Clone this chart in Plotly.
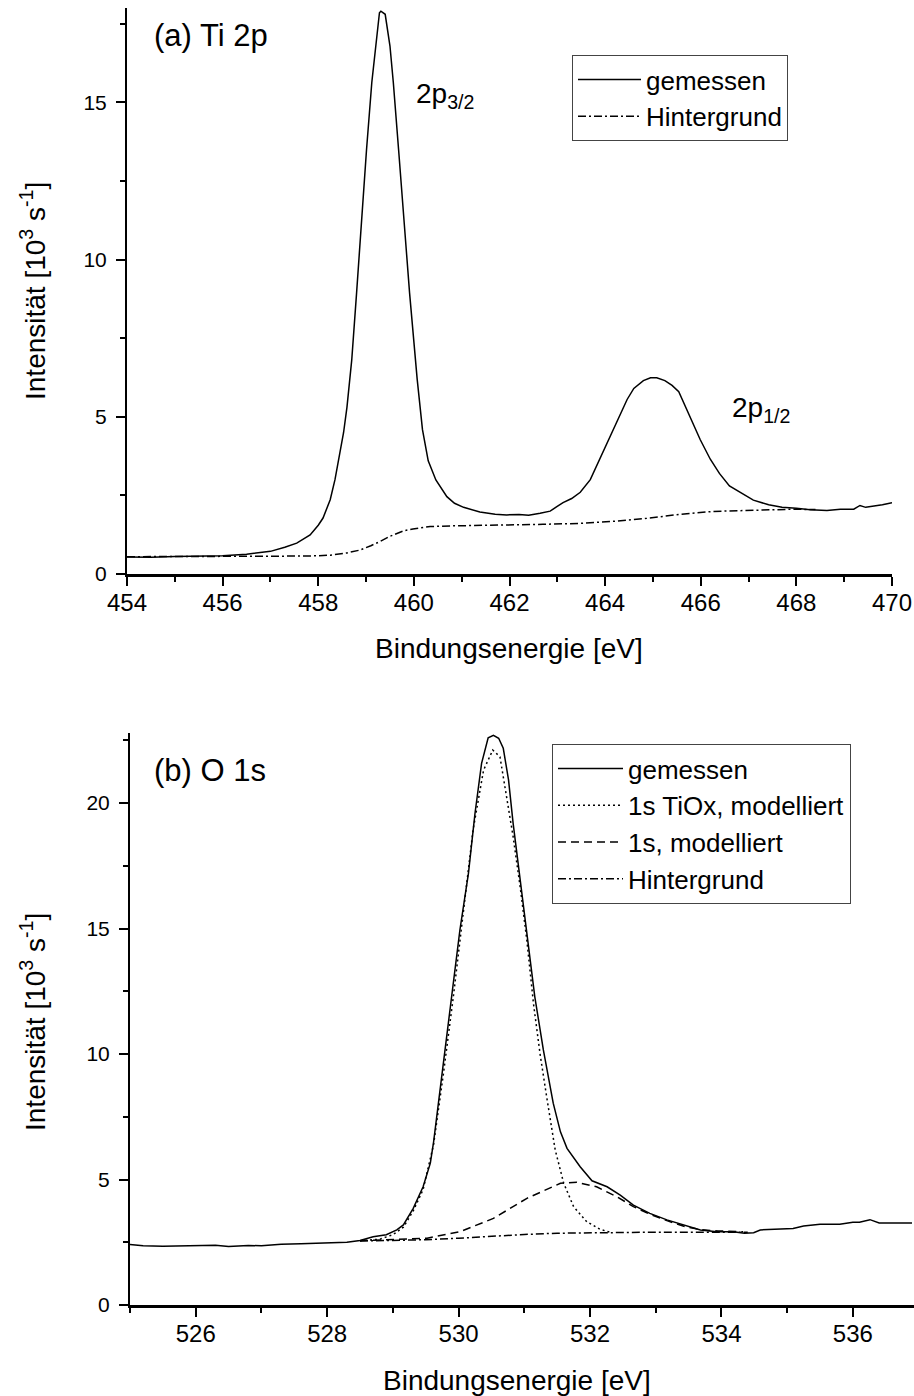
import plotly.graph_objects as go

# ---------------- data: (a) Ti 2p ----------------
ti_E = [454.0, 454.5, 455.0, 455.5, 456.0, 456.5, 457.0, 457.3, 457.55, 457.83,
        458.0, 458.1, 458.25, 458.35, 458.46, 458.53, 458.6, 458.7, 458.8, 458.91,
        459.01, 459.12, 459.21, 459.28, 459.31, 459.4, 459.5, 459.57, 459.68, 459.78,
        459.91, 460.07, 460.18, 460.3, 460.46, 460.69, 460.85, 461.04, 461.38, 461.7,
        461.94, 462.2, 462.4, 462.64, 462.85, 462.99, 463.12, 463.3, 463.48, 463.69,
        463.9, 464.1, 464.3, 464.46, 464.6, 464.8, 464.95, 465.08, 465.25, 465.4,
        465.54, 465.75, 465.99, 466.2, 466.39, 466.6, 466.85, 467.1, 467.42, 467.7,
        468.0, 468.29, 468.64, 468.92, 469.2, 469.33, 469.45, 469.54, 469.8, 470.0]
ti_meas = [0.54, 0.53, 0.56, 0.56, 0.58, 0.63, 0.72, 0.85, 0.98, 1.24,
           1.55, 1.78, 2.36, 3.0, 3.85, 4.5, 5.3, 6.8, 8.9, 11.38,
           13.5, 15.63, 17.0, 17.85, 17.9, 17.8, 16.79, 15.63, 13.5, 11.38,
           8.94, 6.18, 4.59, 3.6, 2.99, 2.46, 2.25, 2.12, 1.97, 1.9,
           1.88, 1.89, 1.87, 1.93, 2.0, 2.14, 2.27, 2.4, 2.6, 3.0,
           3.7, 4.4, 5.05, 5.55, 5.9, 6.15, 6.24, 6.24, 6.15, 6.0,
           5.8, 5.1, 4.27, 3.65, 3.2, 2.8, 2.57, 2.35, 2.2, 2.12,
           2.09, 2.04, 2.02, 2.06, 2.06, 2.18, 2.12, 2.14, 2.2, 2.27]

ti_bg_E = [454.0, 455.0, 456.0, 457.0, 457.6, 458.0, 458.25, 458.6, 458.87, 459.1,
           459.29, 459.5, 459.65, 459.8, 459.98, 460.34, 460.8, 461.38, 462.0, 462.7,
           463.48, 464.2, 464.87, 465.57, 466.26, 466.96, 467.93, 468.4]
ti_bg = [0.55, 0.55, 0.56, 0.56, 0.57, 0.58, 0.6, 0.67, 0.76, 0.9,
         1.03, 1.2, 1.3, 1.38, 1.43, 1.51, 1.53, 1.54, 1.56, 1.58,
         1.61, 1.68, 1.77, 1.9, 1.99, 2.02, 2.06, 2.05]

# ---------------- data: (b) O 1s ----------------
o_E = [525.0, 525.2, 525.5, 525.8, 526.0, 526.3, 526.5, 526.8, 527.0, 527.3,
       527.6, 528.0, 528.3, 528.5, 528.7, 528.9, 529.06, 529.16, 529.31, 529.46,
       529.57, 529.62, 529.77, 529.9, 530.02, 530.15, 530.25, 530.35, 530.45, 530.53,
       530.61, 530.68, 530.76, 530.83, 530.94, 531.04, 531.16, 531.29, 531.44, 531.55,
       531.65, 531.85, 532.03, 532.26, 532.46, 532.66, 532.91, 533.17, 533.47, 533.68,
       533.93, 534.18, 534.35, 534.49, 534.59, 534.94, 535.09, 535.25, 535.5, 535.8,
       536.0, 536.1, 536.26, 536.4, 536.6, 536.9]
o_meas = [2.41, 2.36, 2.34, 2.36, 2.35, 2.38, 2.33, 2.37, 2.36, 2.42,
          2.44, 2.46, 2.5, 2.57, 2.72, 2.8, 2.99, 3.19, 3.85, 4.71,
          5.65, 6.5, 9.63, 12.28, 14.94, 17.2, 19.59, 21.58, 22.6, 22.7,
          22.58, 22.18, 20.92, 19.19, 16.93, 14.94, 12.28, 10.16, 8.04, 6.9,
          6.24, 5.51, 4.95, 4.71, 4.38, 3.98, 3.65, 3.39, 3.15, 2.99,
          2.92, 2.92, 2.86, 2.88, 2.99, 3.03, 3.05, 3.15, 3.22, 3.22,
          3.3, 3.3, 3.4, 3.27, 3.28, 3.27]

o_tiox_E = [528.5, 528.8, 529.0, 529.16, 529.31, 529.46, 529.62, 529.77, 529.92, 530.07,
            530.22, 530.38, 530.52, 530.63, 530.73, 530.83, 530.94, 531.04, 531.14, 531.24,
            531.34, 531.47, 531.6, 531.75, 531.95, 532.15, 532.3]
o_tiox = [2.56, 2.62, 2.8, 3.1, 3.75, 4.6, 6.4, 9.23, 12.28, 15.6,
          18.92, 21.31, 22.11, 21.84, 20.25, 18.66, 16.6, 14.5, 12.0, 10.0,
          8.3, 6.18, 4.85, 3.92, 3.32, 3.02, 2.9]

o_1s_E = [528.5, 529.0, 529.52, 530.02, 530.53, 531.04, 531.55, 531.8, 532.1, 532.41,
          532.66, 532.91, 533.17, 533.45, 533.68, 533.95, 534.33]
o_1s = [2.56, 2.6, 2.66, 2.92, 3.45, 4.25, 4.85, 4.89, 4.71, 4.31,
        3.92, 3.62, 3.36, 3.12, 3.0, 2.95, 2.92]

o_bg_E = [528.5, 529.0, 529.5, 530.0, 530.5, 531.0, 531.5, 532.0, 533.0, 534.4]
o_bg = [2.55, 2.56, 2.6, 2.66, 2.74, 2.81, 2.86, 2.88, 2.9, 2.9]

# ---------------- figure ----------------
W, H = 914, 1396
FONT = "Liberation Sans, Arial, sans-serif"

def px(v):
    return v / W

def py(v):
    return 1 - v / H

fig = go.Figure()
LW = 1.5
DASHDOT = "8px,3px,2px,3px"
fig.add_trace(go.Scatter(x=ti_E, y=ti_meas, mode="lines", name="gemessen",
                         line=dict(color="black", width=LW), xaxis="x", yaxis="y", legend="legend"))
fig.add_trace(go.Scatter(x=ti_bg_E, y=ti_bg, mode="lines", name="Hintergrund",
                         line=dict(color="black", width=LW, dash=DASHDOT),
                         xaxis="x", yaxis="y", legend="legend"))

fig.add_trace(go.Scatter(x=o_E, y=o_meas, mode="lines", name="gemessen",
                         line=dict(color="black", width=LW), xaxis="x2", yaxis="y2", legend="legend2"))
fig.add_trace(go.Scatter(x=o_tiox_E, y=o_tiox, mode="lines", name="1s TiOx, modelliert",
                         line=dict(color="black", width=LW, dash="2px,3px"),
                         xaxis="x2", yaxis="y2", legend="legend2"))
fig.add_trace(go.Scatter(x=o_1s_E, y=o_1s, mode="lines", name="1s, modelliert",
                         line=dict(color="black", width=LW, dash="8px,5px"),
                         xaxis="x2", yaxis="y2", legend="legend2"))
fig.add_trace(go.Scatter(x=o_bg_E, y=o_bg, mode="lines", name="Hintergrund",
                         line=dict(color="black", width=LW, dash=DASHDOT),
                         xaxis="x2", yaxis="y2", legend="legend2"))

xcommon = dict(showline=True, linecolor="black", linewidth=2.5, ticks="outside", ticklen=9,
               tickwidth=2, tickcolor="black", showgrid=False, zeroline=False, mirror=False,
               automargin=False,
               tickfont=dict(family=FONT, size=24, color="black"), ticklabelstandoff=-4,
               minor=dict(ticks="outside", ticklen=5, tickwidth=2, tickcolor="black", dtick=1, showgrid=False))
ycommon = dict(showline=True, linecolor="black", linewidth=2, ticks="outside", ticklen=9,
               tickwidth=2, tickcolor="black", showgrid=False, zeroline=False, mirror=False,
               automargin=False,
               tickfont=dict(family=FONT, size=21, color="black"), ticklabelstandoff=5,
               minor=dict(ticks="outside", ticklen=5, tickwidth=2, tickcolor="black", dtick=2.5, showgrid=False))

O_TOP = 22.8
LEGFONT = 26
fig.update_layout(
    width=W, height=H,
    margin=dict(l=0, r=0, t=0, b=0, pad=0, autoexpand=False),
    paper_bgcolor="white", plot_bgcolor="white",
    font=dict(family=FONT, color="black"),
    xaxis=dict(domain=[px(127), px(892)], range=[454, 470], tick0=454, dtick=2,
               anchor="y", **xcommon),
    yaxis=dict(domain=[py(574), py(8)], range=[0, 18], tick0=0, dtick=5,
               anchor="x", **ycommon),
    xaxis2=dict(domain=[px(130), px(914)], range=[525, 536.93], tick0=526, dtick=2,
                anchor="y2", **xcommon),
    yaxis2=dict(domain=[py(1305), py(1305 - O_TOP * 25.1)], range=[0, O_TOP], tick0=0, dtick=5,
                anchor="x2", **ycommon),
    legend=dict(x=px(572), y=py(55), xanchor="left", yanchor="top", itemwidth=63,
                bgcolor="white", bordercolor="#444", borderwidth=1,
                font=dict(family=FONT, size=LEGFONT, color="black"), tracegroupgap=0),
    legend2=dict(x=px(552), y=py(744), xanchor="left", yanchor="top", itemwidth=65,
                 bgcolor="white", bordercolor="#444", borderwidth=1,
                 font=dict(family=FONT, size=LEGFONT, color="black"), tracegroupgap=0),
    showlegend=True,
)

ann = [
    dict(text="(a) Ti 2p", x=px(152), y=py(36), xanchor="left", yanchor="middle", size=31),
    dict(text="2p<sub>3/2</sub>", x=px(414), y=py(96), xanchor="left", yanchor="middle", size=28),
    dict(text="2p<sub>1/2</sub>", x=px(730), y=py(409), xanchor="left", yanchor="middle", size=28),
    dict(text="(b) O 1s", x=px(152), y=py(770), xanchor="left", yanchor="middle", size=31),
    dict(text="Bindungsenergie [eV]", x=px(509), y=py(648), xanchor="center", yanchor="middle", size=28),
    dict(text="Bindungsenergie [eV]", x=px(517), y=py(1380), xanchor="center", yanchor="middle", size=28),
]
for a in ann:
    fig.add_annotation(text=a["text"], x=a["x"], y=a["y"], xref="paper", yref="paper",
                       xanchor=a["xanchor"], yanchor=a["yanchor"], showarrow=False,
                       font=dict(family=FONT, size=a["size"], color="black"))

ytitle = "Intensität [10<sup>3</sup> s<sup>-1</sup>]"
for yc in (291, 1022):
    fig.add_annotation(text=ytitle, x=px(33), y=py(yc), xref="paper", yref="paper",
                       xanchor="center", yanchor="middle", textangle=-90, showarrow=False,
                       font=dict(family=FONT, size=28, color="black"))

fig.write_html("out.html")
